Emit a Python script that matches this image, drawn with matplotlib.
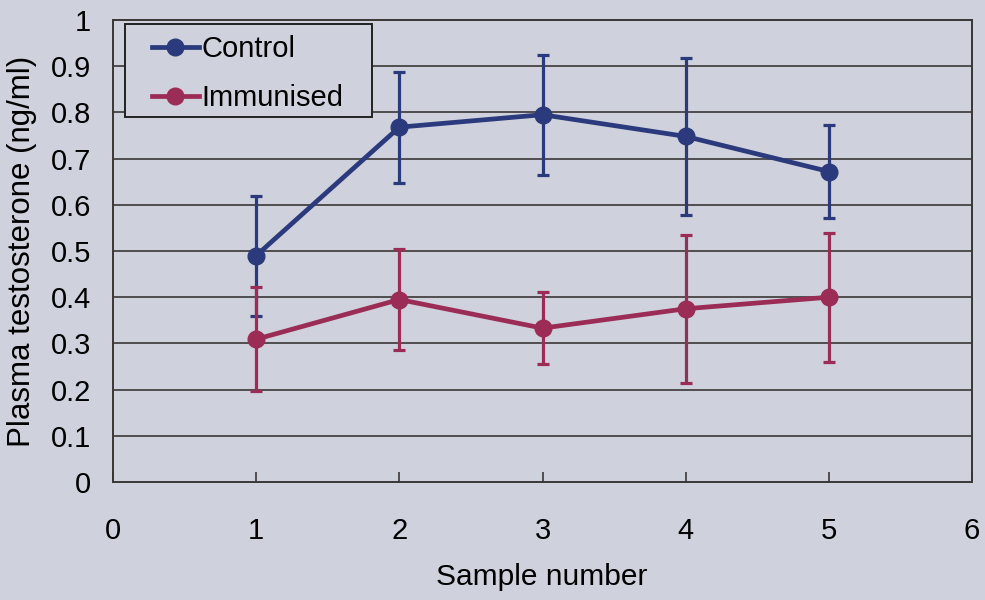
import matplotlib
matplotlib.use("Agg")
import matplotlib.pyplot as plt
from matplotlib import font_manager
from matplotlib.patches import Rectangle

samples = [1, 2, 3, 4, 5]
control = [0.49, 0.768, 0.795, 0.748, 0.672]
control_err = [0.13, 0.12, 0.13, 0.17, 0.10]
immunised = [0.309, 0.395, 0.333, 0.375, 0.400]
immunised_err = [0.112, 0.11, 0.078, 0.16, 0.14]
xticks = [0, 1, 2, 3, 4, 5, 6]
yticks = [0, 0.1, 0.2, 0.3, 0.4, 0.5, 0.6, 0.7, 0.8, 0.9, 1.0]
ytick_labels = ["0", "0.1", "0.2", "0.3", "0.4", "0.5", "0.6", "0.7", "0.8", "0.9", "1"]

plt.rcParams['font.family'] = ['Liberation Sans', 'DejaVu Sans']
names = {f.name for f in font_manager.fontManager.ttflist}
narrow = 'Liberation Sans Narrow' if 'Liberation Sans Narrow' in names else None

bg = '#cfd2dc'
blue = '#2b3a7c'
red = '#9b2c55'
grid = '#3b3636'

W, H = 985, 600
fig = plt.figure(figsize=(9.85, 6.0), dpi=100, facecolor=bg)
ax_l, ax_r, ax_t, ax_b = 113, 972, 20, 482
ax = fig.add_axes([ax_l / W, 1 - ax_b / H, (ax_r - ax_l) / W, (ax_b - ax_t) / H])
ax.set_facecolor(bg)

for y in yticks[1:-1]:
    ax.axhline(y, color=grid, lw=1.2, zorder=1)

ax.errorbar(samples, control, yerr=control_err, color=blue, lw=3.4, marker='o',
            markersize=12, elinewidth=2.3, capsize=4.5, capthick=2.3, zorder=3,
            label='Control')
ax.errorbar(samples, immunised, yerr=immunised_err, color=red, lw=3.4, marker='o',
            markersize=12, elinewidth=2.3, capsize=4.5, capthick=2.3, zorder=3,
            label='Immunised')

ax.set_xlim(0, 6)
ax.set_ylim(0, 1)
ax.set_xticks(xticks)
ax.set_xticklabels([str(v) for v in xticks])
ax.set_yticks(yticks)
ax.set_yticklabels(ytick_labels)
ax.tick_params(axis='x', direction='in', length=7, width=1.2, color=grid,
               labelsize=21, pad=25)
ax.tick_params(axis='y', length=0, labelsize=21, pad=16)
for s in ax.spines.values():
    s.set_color(grid)
    s.set_linewidth(1.4)

ax.set_ylabel('Plasma testosterone (ng/ml)', fontsize=22.5)
ax.yaxis.set_label_coords((37 - ax_l) / (ax_r - ax_l), 0.5)

if narrow:
    ax.set_xlabel('Sample number', fontsize=26.5, family=[narrow, 'DejaVu Sans'])
else:
    ax.set_xlabel('Sample number', fontsize=21.5)
ax.xaxis.set_label_coords((542 - ax_l) / (ax_r - ax_l), -(577 - ax_b) / (ax_b - ax_t))
ax.xaxis.label.set_verticalalignment('center')

# legend frame (drawn as a box behind the legend entries)
lx0, ly0, lx1, ly1 = 125, 24, 372, 117
ax.add_patch(Rectangle((lx0 / W, 1 - ly1 / H), (lx1 - lx0) / W, (ly1 - ly0) / H,
                       transform=fig.transFigure, facecolor=bg, edgecolor='#222222',
                       lw=1.4, zorder=4))

handles, labels = ax.get_legend_handles_labels()
h = [hh[0] for hh in handles]
leg = ax.legend(h, labels, loc='upper left', bbox_to_anchor=(152 / W, 1 - 35 / H),
                bbox_transform=fig.transFigure,
                fontsize=21, frameon=False, handlelength=1.6, handletextpad=0.1,
                borderpad=0, labelspacing=0.72, borderaxespad=0)
leg.set_zorder(5)

fig.savefig('out.png', dpi=100, facecolor=bg)
